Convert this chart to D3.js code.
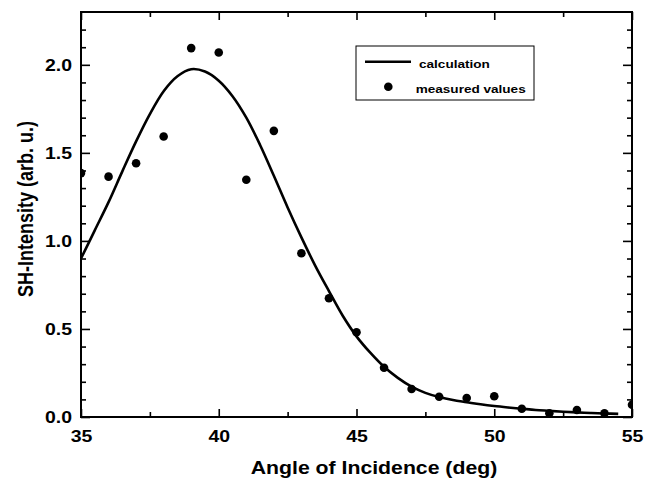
<!DOCTYPE html>
<html>
<head>
<meta charset="utf-8">
<script src="https://cdn.jsdelivr.net/npm/d3@7"></script>
<style>
  body { margin: 0; background: #fff; }
  text { font-family: "Liberation Sans", Arial, sans-serif; font-weight: bold; }
</style>
</head>
<body>
<svg id="chart" width="655" height="480"></svg>
<script>

// measured points (angle in deg, SH intensity)
var meas_angle = [35, 36, 37, 38, 39, 40, 41, 42, 43, 44, 45, 46, 47, 48, 49, 50, 51, 52, 53, 54, 55]
var meas_val = [1.385, 1.365, 1.441, 1.593, 2.095, 2.07, 1.347, 1.625, 0.93, 0.674, 0.481, 0.28, 0.159, 0.115,
                0.108, 0.118, 0.047, 0.021, 0.04, 0.021, 0.07]

// calculated curve, read every half degree
var calc_angle = [35, 35.5, 36, 36.5, 37, 37.5, 38, 38.5, 39, 39.5, 40, 40.5, 41, 41.5, 42, 42.5, 43, 43.5, 44,
                  44.5, 45, 45.5, 46, 46.5, 47, 47.5, 48, 48.5, 49, 49.5, 50, 50.5, 51, 51.5, 52, 52.5, 53, 53.5, 54, 54.5]
var calc_val = [0.9, 1.06, 1.22, 1.395, 1.565, 1.72, 1.85, 1.935, 1.975, 1.962, 1.91, 1.822, 1.7, 1.545, 1.37,
                1.19, 1.02, 0.86, 0.715, 0.575, 0.458, 0.365, 0.285, 0.222, 0.172, 0.137, 0.113, 0.096, 0.084,
                0.072, 0.062, 0.054, 0.047, 0.04, 0.035, 0.03, 0.026, 0.023, 0.02, 0.018]

var x_major = [35, 40, 45, 50, 55]
var x_minor = [37.5, 42.5, 47.5, 52.5]
var y_major = [0, 0.5, 1.0, 1.5, 2.0]
var y_minor = [0.1, 0.2, 0.3, 0.4, 0.6, 0.7, 0.8, 0.9, 1.1, 1.2, 1.3, 1.4, 1.6, 1.7, 1.8, 1.9, 2.1, 2.2]

var legend_labels = ["calculation", "measured values"]

///// layout  (plot_ prefix: "top" is taken by window)
var plot_l = 81, plot_r = 632, plot_t = 12, plot_b = 417
var stretch = "scale(1.18,1)"   // the source lettering is a bit wide

var svg = d3.select("#chart")

var scaleX = d3.scaleLinear().domain([35, 55]).range([plot_l, plot_r])
var scaleY = d3.scaleLinear().domain([0, 2.3]).range([plot_b, plot_t])

svg.append("clipPath").attr("id", "plotclip")
  .append("rect")
    .attr("x", plot_l).attr("y", plot_t)
    .attr("width", plot_r - plot_l).attr("height", plot_b - plot_t)

var meas = meas_angle.map(function(a, i) { return {x: a, y: meas_val[i]} })
var calc = calc_angle.map(function(a, i) { return {x: a, y: calc_val[i]} })

var plot = svg.append("g").attr("clip-path", "url(#plotclip)")

var curveFunc = d3.line()
  .curve(d3.curveCatmullRom)
  .x(function(d) { return scaleX(d.x) })
  .y(function(d) { return scaleY(d.y) })

plot.append("path")
  .attr("d", curveFunc(calc))
  .attr("fill", "none")
  .attr("stroke", "#000")
  .attr("stroke-width", 2.6)

plot.selectAll("circle")
  .data(meas)
  .enter()
  .append("circle")
    .attr("cx", function(d) { return scaleX(d.x) })
    .attr("cy", function(d) { return scaleY(d.y) })
    .attr("r", 4.3)
    .attr("fill", "#000")

///// axes, ticks point inward on all four sides
function tidy(g) {
  g.select(".domain").remove()
  g.selectAll("line").attr("stroke", "#000").attr("stroke-width", 1.6)
}

var xb = svg.append("g")
  .attr("transform", "translate(0," + plot_b + ")")
  .call(d3.axisBottom(scaleX).tickValues(x_major).tickSize(-8).tickPadding(13).tickFormat(d3.format("d")))
xb.call(tidy)
xb.selectAll("text").attr("fill", "#000").style("font-size", "16.5px").attr("transform", stretch)

svg.append("g")
  .attr("transform", "translate(0," + plot_b + ")")
  .call(d3.axisBottom(scaleX).tickValues(x_minor).tickSize(-5).tickFormat(""))
  .call(tidy)

svg.append("g")
  .attr("transform", "translate(0," + plot_t + ")")
  .call(d3.axisTop(scaleX).tickValues(x_major).tickSize(-8).tickFormat(""))
  .call(tidy)

svg.append("g")
  .attr("transform", "translate(0," + plot_t + ")")
  .call(d3.axisTop(scaleX).tickValues(x_minor).tickSize(-5).tickFormat(""))
  .call(tidy)

var yl = svg.append("g")
  .attr("transform", "translate(" + plot_l + ",0)")
  .call(d3.axisLeft(scaleY).tickValues(y_major).tickSize(-9).tickPadding(7.6).tickFormat(d3.format(".1f")))
yl.call(tidy)
yl.selectAll("text").attr("fill", "#000").style("font-size", "16.5px").attr("transform", stretch)

svg.append("g")
  .attr("transform", "translate(" + plot_l + ",0)")
  .call(d3.axisLeft(scaleY).tickValues(y_minor).tickSize(-5).tickFormat(""))
  .call(tidy)

svg.append("g")
  .attr("transform", "translate(" + plot_r + ",0)")
  .call(d3.axisRight(scaleY).tickValues(y_major).tickSize(-9).tickFormat(""))
  .call(tidy)

svg.append("g")
  .attr("transform", "translate(" + plot_r + ",0)")
  .call(d3.axisRight(scaleY).tickValues(y_minor).tickSize(-5).tickFormat(""))
  .call(tidy)

// frame
svg.append("rect")
  .attr("x", plot_l).attr("y", plot_t)
  .attr("width", plot_r - plot_l).attr("height", plot_b - plot_t)
  .attr("fill", "none")
  .attr("stroke", "#000")
  .attr("stroke-width", 2)

///// axis titles
svg.append("text")
  .attr("transform", "translate(374,474) " + stretch)
  .attr("text-anchor", "middle")
  .style("font-size", "18px")
  .text("Angle of Incidence (deg)")

svg.append("text")
  .attr("transform", "translate(33,209) rotate(-90) scale(1,1.18)")
  .attr("text-anchor", "middle")
  .style("font-size", "18px")
  .text("SH-Intensity (arb. u.)")

///// legend
var leg = svg.append("g").attr("transform", "translate(356,46)")

leg.append("rect")
  .attr("width", 178).attr("height", 54)
  .attr("fill", "#fff")
  .attr("stroke", "#000")
  .attr("stroke-width", 1)

leg.append("line")
  .attr("x1", 9).attr("x2", 55)
  .attr("y1", 15.7).attr("y2", 15.7)
  .attr("stroke", "#000")
  .attr("stroke-width", 2.4)

leg.append("circle")
  .attr("cx", 32.3).attr("cy", 40.7)
  .attr("r", 4.3)
  .attr("fill", "#000")

leg.selectAll("text.lab")
  .data(legend_labels)
  .enter()
  .append("text")
    .attr("class", "lab")
    .attr("transform", function(d, i) { return "translate(" + (i == 0 ? 63 : 59.7) + "," + (i == 0 ? 21.7 : 47.3) + ") " + stretch })
    .style("font-size", "11.5px")
    .text(function(d) { return d })

</script>
</body>
</html>
